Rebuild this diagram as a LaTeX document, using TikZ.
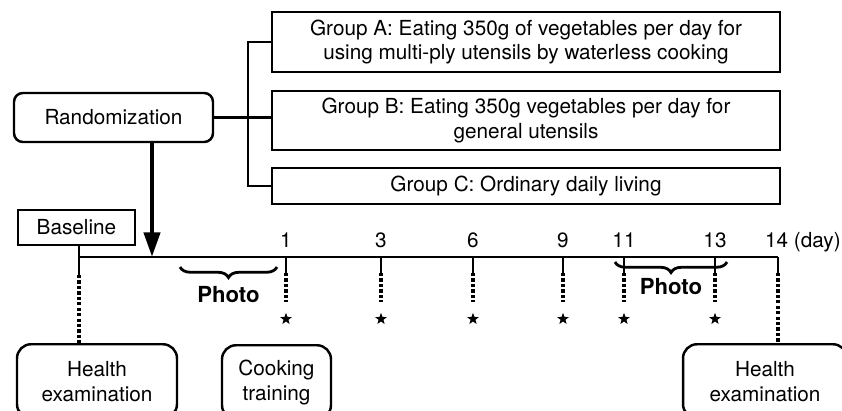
\documentclass[tikz,border=0pt]{standalone}
\usepackage{fontspec}
\setmainfont{TeX Gyre Heros}
\usetikzlibrary{positioning,shapes.geometric,arrows.meta,decorations.pathreplacing}

\begin{document}
\begin{tikzpicture}[x=0.02cm,y=-0.02cm,
                     font=\fontsize{11.8}{14.2}\selectfont,
                     group box/.style={draw,line width=1.5pt,minimum width=10.16cm,align=center,inner sep=0pt},
                     round box/.style={draw,line width=1.4pt,rounded corners=5pt,align=center,inner sep=0pt},
                     line/.style={line width=1.4pt},
                     dot line/.style={line width=2.1pt,dash pattern=on 1.8pt off 1.3pt},
                     star mark/.style={star,star points=5,star point ratio=2.4,fill,inner sep=0pt,minimum size=7pt},
                     photo brace/.style={decorate,decoration={brace,mirror,amplitude=6pt},line width=1.6pt}
                    ]
   \useasboundingbox (0,0) rectangle (842,410);
   \clip (0,0) rectangle (842,410);
   % groups
   \node[group box,minimum height=1.2cm] (grpA) at (526,42) {Group A: Eating 350g of vegetables per day for\\using multi-ply utensils by waterless cooking};
   \node[group box,minimum height=1.18cm] (grpB) at (526,120.5) {Group B: Eating 350g vegetables per day for\\general utensils};
   \node[group box,minimum height=0.72cm] (grpC) at (526,186) {Group C: Ordinary daily living};
   \node[round box,minimum width=3.98cm,minimum height=0.98cm] (rand) at (113.5,117.5) {Randomization};
   \coordinate (split) at (248,118);
   \draw[line] (rand.east) -- (rand.east -| grpB.west);
   \draw[line] (grpA.west) -| (split) |- (grpC.west);
   % timeline
   \node[draw,line width=1.5pt,minimum width=2.34cm,minimum height=0.7cm,inner sep=0pt] (base) at (76.5,227.5) {Baseline};
   \coordinate (t0) at (79,257);
   \coordinate (t14) at (778,257);
   \coordinate (rnd) at (152,257);
   \draw[line] (t0) -- (t14);
   \draw[line width=2.6pt,-{Triangle[length=14pt,width=9pt]}] (rand.south -| rnd) -- (rnd);
   \foreach \d/\x in {1/286,3/381,6/473,9/563,11/624,13/715}
   {
     \draw[line] (\x,257) -- (\x,273);
     \draw[dot line] (\x,273) -- (\x,302);
     \node[star mark] (star\d) at (\x,319) {};
     \node[anchor=base] (lab\d) at (\x,247) {\d};
   }
   \node[anchor=base east,inner sep=0pt] (lab14) at (841,247) {14 (day)};
   % photo braces
   \draw[photo brace] (180,267) -- (277,267) node[midway,below=7pt,font=\fontsize{12.6}{14}\selectfont\bfseries] (photo1) {Photo};
   \draw[photo brace] (615,262) -- (727,262) node[midway,below=5pt,font=\fontsize{12.6}{14}\selectfont\bfseries] (photo2) {Photo};
   % examinations
   \node[round box,rounded corners=8pt,anchor=north,minimum width=3.2cm,minimum height=1.48cm] (exam1) at (97,343) {Health\\examination};
   \node[round box,rounded corners=8pt,anchor=north,minimum width=2.18cm,minimum height=1.48cm] (cook) at (276.5,344) {Cooking\\training};
   \node[round box,rounded corners=8pt,anchor=north,minimum width=3.28cm,minimum height=1.48cm] (exam2) at (765,343) {Health\\examination};
   \draw[line] (base.south -| t0) -- (79,275);
   \draw[dot line] (79,275) -- (exam1.north -| t0);
   \draw[line] (t14) -- (778,273);
   \draw[dot line] (778,273) -- (exam2.north -| t14);
 \end{tikzpicture}
\end{document}
